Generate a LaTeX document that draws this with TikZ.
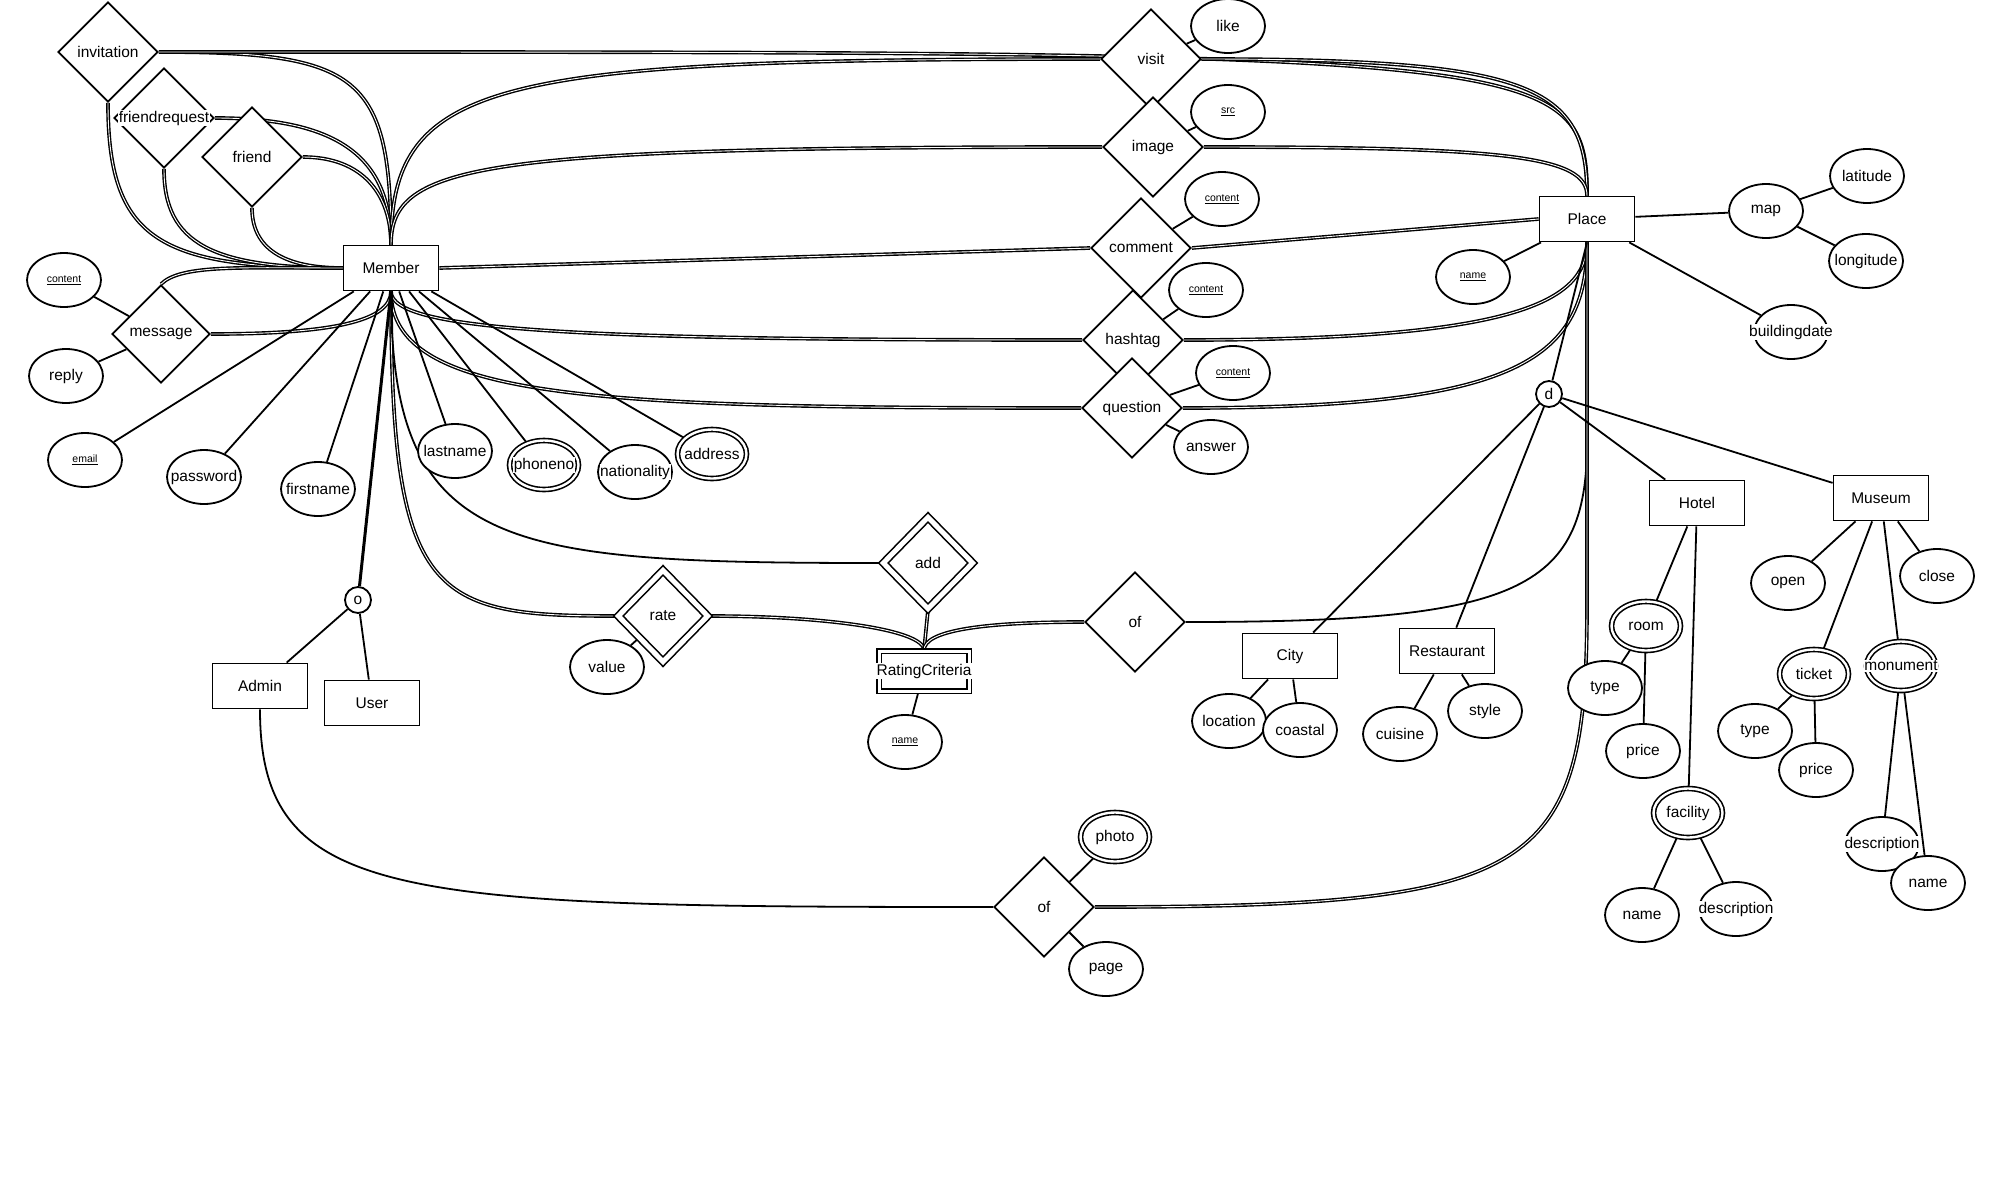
\documentclass[tikz,border=0pt]{standalone}
\usepackage{fontspec}
\setmainfont{Liberation Sans}
\usetikzlibrary{shapes.geometric}
\pgfdeclarelayer{background}
\pgfsetlayers{background,main}
% text that may run over the outline, on a white patch
\newcommand{\ertxt}[1]{\makebox[0pt]{\setlength{\fboxsep}{0.6pt}\colorbox{white}{#1}}}
\newcommand{\erkey}[1]{\ertxt{\fontsize{10.5}{12}\selectfont\underline{#1}}}

\begin{document}
\begin{tikzpicture}[x=1pt,y=1pt,font=\fontsize{15.5}{18}\selectfont]
    % Node styles
    \tikzset{
      entity/.style={rectangle,draw,line width=1.8pt,fill=white,minimum width=95pt,minimum height=45pt,inner sep=0pt},
      weak entity/.style={entity,double,double distance=3pt,line width=1.6pt,minimum width=90pt,minimum height=40pt},
      relation/.style={diamond,aspect=1,draw,line width=1.8pt,fill=white,minimum width=100pt,minimum height=100pt,inner sep=0pt},
      weak relation/.style={relation,double,double distance=5pt,line width=1.6pt,minimum width=90pt,minimum height=92pt},
      attribute/.style={ellipse,draw,line width=1.8pt,fill=white,minimum width=74pt,minimum height=54pt,inner sep=0pt},
      multi attribute/.style={attribute,double,double distance=2.4pt,line width=1.6pt,minimum width=69pt,minimum height=49pt},
      special/.style={circle,draw,line width=1.8pt,fill=white,minimum size=26pt,inner sep=0pt},
      link/.style={line width=1.8pt},
      total/.style={double,line width=1.4pt,double distance=0.9pt}
    }
    \useasboundingbox (0,0) rectangle (2000,-1200);

    % --- Entities ---
    \node[entity] (member) at (391,-268) {\ertxt{Member}};
    \node[entity] (place) at (1587,-219) {\ertxt{Place}};
    \node[entity] (admin) at (260,-686) {\ertxt{Admin}};
    \node[entity] (user) at (372,-703) {\ertxt{User}};
    \node[entity] (city) at (1290,-656) {\ertxt{City}};
    \node[entity] (restaurant) at (1447,-651) {\ertxt{Restaurant}};
    \node[entity] (hotel) at (1697,-503) {\ertxt{Hotel}};
    \node[entity] (museum) at (1881,-498) {\ertxt{Museum}};
    \node[weak entity] (criteria) at (924,-671) {\ertxt{RatingCriteria}};

    % --- Specialisation circles ---
    \node[special] (o) at (358,-600) {o};
    \node[special] (d) at (1549,-394) {d};

    % --- Relationships ---
    \node[relation] (inv) at (108,-52) {\ertxt{invitation}};
    \node[relation] (freq) at (164,-118) {\ertxt{friendrequest}};
    \node[relation] (friend) at (252,-157) {\ertxt{friend}};
    \node[relation,minimum width=98pt,minimum height=98pt] (msg) at (161,-334) {\ertxt{message}};
    \node[relation] (visit) at (1151,-59) {\ertxt{visit}};
    \node[relation] (image) at (1153,-147) {\ertxt{image}};
    \node[relation] (comment) at (1141,-248) {\ertxt{comment}};
    \node[relation] (hashtag) at (1133,-340) {\ertxt{hashtag}};
    \node[relation] (question) at (1132,-408) {\ertxt{question}};
    \node[weak relation] (rate) at (663,-616) {\ertxt{rate}};
    \node[weak relation] (add) at (928,-563) {\ertxt{add}};
    \node[relation] (ofrc) at (1135,-622) {\ertxt{of}};
    \node[relation] (ofphoto) at (1044,-907) {\ertxt{of}};

    % --- Attributes of Member and its relationships ---
    \node[attribute] (msgcontent) at (64,-280) {\erkey{content}};
    \node[attribute] (reply) at (66,-376) {\ertxt{reply}};
    \node[attribute] (email) at (85,-460) {\erkey{email}};
    \node[attribute] (password) at (204,-477) {\ertxt{password}};
    \node[attribute] (firstname) at (318,-489) {\ertxt{firstname}};
    \node[attribute] (lastname) at (455,-451) {\ertxt{lastname}};
    \node[multi attribute] (phoneno) at (544,-465) {\ertxt{phoneno}};
    \node[attribute] (nationality) at (635,-472) {\ertxt{nationality}};
    \node[multi attribute] (address) at (712,-454) {\ertxt{address}};
    \node[attribute] (value) at (607,-667) {\ertxt{value}};
    \node[attribute] (critname) at (905,-742) {\erkey{name}};
    \node[multi attribute] (photo) at (1115,-837) {\ertxt{photo}};
    \node[attribute] (page) at (1106,-969) {\ertxt{page}};
    \node[attribute] (like) at (1228,-26) {\ertxt{like}};
    \node[attribute] (src) at (1228,-112) {\erkey{src}};
    \node[attribute] (comcontent) at (1222,-199) {\erkey{content}};
    \node[attribute] (hashcontent) at (1206,-290) {\erkey{content}};
    \node[attribute] (qcontent) at (1233,-373) {\erkey{content}};
    \node[attribute] (answer) at (1211,-447) {\ertxt{answer}};

    % --- Attributes of Place and its kinds ---
    \node[attribute] (placename) at (1473,-277) {\erkey{name}};
    \node[attribute] (map) at (1766,-211) {\ertxt{map}};
    \node[attribute] (latitude) at (1867,-176) {\ertxt{latitude}};
    \node[attribute] (longitude) at (1866,-261) {\ertxt{longitude}};
    \node[attribute] (builddate) at (1791,-332) {\ertxt{buildingdate}};
    \node[attribute] (location) at (1229,-721) {\ertxt{location}};
    \node[attribute] (coastal) at (1300,-730) {\ertxt{coastal}};
    \node[attribute] (cuisine) at (1400,-734) {\ertxt{cuisine}};
    \node[attribute] (style) at (1485,-711) {\ertxt{style}};
    \node[multi attribute] (room) at (1646,-626) {\ertxt{room}};
    \node[attribute] (roomtype) at (1605,-688) {\ertxt{type}};
    \node[attribute] (roomprice) at (1643,-751) {\ertxt{price}};
    \node[multi attribute] (facility) at (1688,-813) {\ertxt{facility}};
    \node[attribute] (facname) at (1642,-915) {\ertxt{name}};
    \node[attribute] (facdesc) at (1736,-909) {\ertxt{description}};
    \node[attribute] (open) at (1788,-583) {\ertxt{open}};
    \node[attribute] (close) at (1937,-576) {\ertxt{close}};
    \node[multi attribute] (ticket) at (1814,-674) {\ertxt{ticket}};
    \node[attribute] (tickettype) at (1755,-731) {\ertxt{type}};
    \node[attribute] (ticketprice) at (1816,-770) {\ertxt{price}};
    \node[multi attribute] (monument) at (1901,-666) {\ertxt{monument}};
    \node[attribute] (monudesc) at (1882,-844) {\ertxt{description}};
    \node[attribute] (mononame) at (1928,-883) {\ertxt{name}};

    \begin{pgfonlayer}{background}
    % --- Member with its own relationships ---
    \draw[total] (inv.east) .. controls +(200,0) and +(0,170) .. (member.north);
    \draw[total] (inv.south) .. controls +(0,-138) and +(-183,0) .. (member.west);
    \draw[total] (freq.east) .. controls +(120,0) and +(0,90) .. (member.north);
    \draw[total] (freq.south) .. controls +(0,-75) and +(-130,0) .. (member.west);
    \draw[total] (friend.east) .. controls +(60,0) and +(0,50) .. (member.north);
    \draw[total] (friend.south) .. controls +(0,-40) and +(-60,0) .. (member.west);
    \draw[total] (msg.north) .. controls +(20,20) and +(-100,0) .. (member.west);
    \draw[total] (msg.east) .. controls +(120,0) and +(0,-30) .. (member.south);

    % --- Member to Place ---
    \draw[total] (inv.east) .. controls +(1380,0) and +(0,145) .. (place.north);
    \draw[total] (member.north) .. controls +(0,166) and +(-603,0) .. (visit.west);
    \draw[total] (visit.east) .. controls +(330,0) and +(0,110) .. (place.north);
    \draw[total] (member.north) .. controls +(0,81) and +(-624,0) .. (image.west);
    \draw[total] (image.east) .. controls +(300,0) and +(0,40) .. (place.north);
    \draw[total] (member.east) -- (comment.west);
    \draw[total] (comment.east) -- (place.west);
    \draw[total] (member.south) .. controls +(0,-40) and +(-500,0) .. (hashtag.west);
    \draw[total] (hashtag.east) .. controls +(330,0) and +(0,-60) .. (place.south);
    \draw[total] (member.south) .. controls +(0,-109) and +(-483,0) .. (question.west);
    \draw[total] (question.east) .. controls +(330,0) and +(0,-120) .. (place.south);

    % --- Rating criteria ---
    \draw[total] (member.south) .. controls +(0,-309) and +(-185,0) .. (rate.west);
    \draw[total] (rate.east) .. controls +(120,0) and +(0,20) .. (criteria.north);
    \draw[link] (member.south) .. controls +(0,-260) and +(-380,0) .. (add.west);
    \draw[total] (add.south) -- (criteria.north);
    \draw[total] (criteria.north) .. controls +(0,20) and +(-100,0) .. (ofrc.west);
    \draw[link] (ofrc.east) .. controls +(330,0) and +(0,-150) .. ([yshift=-200pt]place.south) -- (place.south);

    % --- Admin / User ---
    \draw[line width=3pt] (member.south) -- (o);
    \draw[link] (o) -- (admin);
    \draw[link] (o) -- (user);
    \draw[link] (admin.south) .. controls +(0,-192) and +(-595,0) .. (ofphoto.west);
    \draw[total] (ofphoto.east) .. controls +(446,0) and +(0,-270) .. ([yshift=-360pt]place.south) -- (place.south);

    % --- Kinds of Place ---
    \draw[link] (place.south) -- (d);
    \draw[link] (d) -- (city);
    \draw[link] (d) -- (restaurant);
    \draw[link] (d) -- (hotel);
    \draw[link] (d) -- (museum);

    % --- Attribute lines ---
    \foreach \a in {email,password,firstname,lastname,phoneno,nationality,address}
      \draw[link] (member) -- (\a);
    \draw[link] (msg) -- (msgcontent);
    \draw[link] (msg) -- (reply);
    \draw[link] (rate) -- (value);
    \draw[link] (criteria) -- (critname);
    \draw[link] (ofphoto) -- (photo);
    \draw[link] (ofphoto) -- (page);
    \draw[link] (visit) -- (like);
    \draw[link] (image) -- (src);
    \draw[link] (comment) -- (comcontent);
    \draw[link] (hashtag) -- (hashcontent);
    \draw[link] (question) -- (qcontent);
    \draw[link] (question) -- (answer);
    \draw[link] (place) -- (placename);
    \draw[link] (place) -- (map);
    \draw[link] (place) -- (builddate);
    \draw[link] (map) -- (latitude);
    \draw[link] (map) -- (longitude);
    \draw[link] (city) -- (location);
    \draw[link] (city) -- (coastal);
    \draw[link] (restaurant) -- (cuisine);
    \draw[link] (restaurant) -- (style);
    \draw[link] (hotel) -- (room);
    \draw[link] (hotel) -- (facility);
    \draw[link] (room) -- (roomtype);
    \draw[link] (room) -- (roomprice);
    \draw[link] (facility) -- (facname);
    \draw[link] (facility) -- (facdesc);
    \foreach \a in {open,ticket,monument,close}
      \draw[link] (museum) -- (\a);
    \draw[link] (ticket) -- (tickettype);
    \draw[link] (ticket) -- (ticketprice);
    \draw[link] (monument) -- (monudesc);
    \draw[link] (monument) -- (mononame);
    \end{pgfonlayer}

\end{tikzpicture}
\end{document}
